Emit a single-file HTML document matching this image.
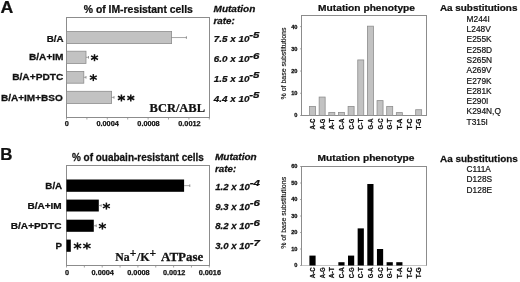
<!DOCTYPE html>
<html><head><meta charset="utf-8"><title>figure</title>
<style>
html,body{margin:0;padding:0;background:#fff;}
body{width:520px;height:282px;overflow:hidden;font-family:"Liberation Sans",sans-serif;}
svg{display:block;will-change:transform;transform:translateZ(0);filter:blur(0.35px);}
text{fill:#111;}
text[font-weight=bold]{stroke:#111;stroke-width:0.25px;}
</style></head><body>
<svg width="520" height="282" viewBox="0 0 520 282">
<text transform="translate(0.6,13.4) scale(1.055,1)" font-size="16.8" font-weight="bold" font-style="normal" font-family="Liberation Sans, sans-serif" >A</text>
<text transform="translate(0.2,160.4) scale(1.0428,1)" font-size="16.2" font-weight="bold" font-style="normal" font-family="Liberation Sans, sans-serif" >B</text>
<rect x="66.5" y="17.5" width="143.0" height="100.0" fill="none" stroke="#8c8c8c" stroke-width="1"/>
<text transform="translate(83.75,13.2) scale(1.0411,1)" font-size="10" font-weight="bold" font-style="normal" font-family="Liberation Sans, sans-serif" >% of IM-resistant cells</text>
<rect x="66.5" y="31.5" width="105.1" height="12.1" fill="#c2c2c2" stroke="#8e8e8e" stroke-width="0.8"/>
<line x1="171.6" y1="37.55" x2="186.4" y2="37.55" stroke="#6a6a6a" stroke-width="0.6"/>
<line x1="186.4" y1="36.25" x2="186.4" y2="38.85" stroke="#6a6a6a" stroke-width="0.7"/>
<text transform="translate(46.8,41.5) scale(1.1085,1)" font-size="8.8" font-weight="bold" font-style="normal" font-family="Liberation Sans, sans-serif" >B/A</text>
<rect x="66.5" y="51.2" width="19.5" height="12.2" fill="#c2c2c2" stroke="#8e8e8e" stroke-width="0.8"/>
<line x1="86" y1="57.3" x2="88.5" y2="57.3" stroke="#6a6a6a" stroke-width="0.6"/>
<line x1="88.5" y1="56.0" x2="88.5" y2="58.6" stroke="#6a6a6a" stroke-width="0.7"/>
<text transform="translate(29.0,59.8) scale(1.1507,1)" font-size="8.8" font-weight="bold" font-style="normal" font-family="Liberation Sans, sans-serif" >B/A+IM</text>
<rect x="66.5" y="71.4" width="17.3" height="11.8" fill="#c2c2c2" stroke="#8e8e8e" stroke-width="0.8"/>
<line x1="83.8" y1="77.3" x2="86" y2="77.3" stroke="#6a6a6a" stroke-width="0.6"/>
<line x1="86" y1="76.0" x2="86" y2="78.6" stroke="#6a6a6a" stroke-width="0.7"/>
<text transform="translate(12.2,80.1) scale(1.1571,1)" font-size="8.8" font-weight="bold" font-style="normal" font-family="Liberation Sans, sans-serif" >B/A+PDTC</text>
<rect x="66.5" y="91.3" width="45.1" height="12.2" fill="#c2c2c2" stroke="#8e8e8e" stroke-width="0.8"/>
<line x1="111.6" y1="97.4" x2="114" y2="97.4" stroke="#6a6a6a" stroke-width="0.6"/>
<line x1="114" y1="96.1" x2="114" y2="98.7" stroke="#6a6a6a" stroke-width="0.7"/>
<text transform="translate(0.9,101.4) scale(1.1404,1)" font-size="8.8" font-weight="bold" font-style="normal" font-family="Liberation Sans, sans-serif" >B/A+IM+BSO</text>
<line x1="94.5" y1="54.2" x2="94.5" y2="61.2" stroke="#111" stroke-width="1.5"/>
<line x1="91.03" y1="55.93" x2="97.97" y2="59.47" stroke="#111" stroke-width="1.5"/>
<line x1="97.97" y1="55.93" x2="91.03" y2="59.47" stroke="#111" stroke-width="1.5"/>
<line x1="93.3" y1="74.1" x2="93.3" y2="81.1" stroke="#111" stroke-width="1.5"/>
<line x1="89.83" y1="75.83" x2="96.77" y2="79.37" stroke="#111" stroke-width="1.5"/>
<line x1="96.77" y1="75.83" x2="89.83" y2="79.37" stroke="#111" stroke-width="1.5"/>
<line x1="121.4" y1="94.5" x2="121.4" y2="101.5" stroke="#111" stroke-width="1.5"/>
<line x1="117.93" y1="96.23" x2="124.87" y2="99.77" stroke="#111" stroke-width="1.5"/>
<line x1="124.87" y1="96.23" x2="117.93" y2="99.77" stroke="#111" stroke-width="1.5"/>
<line x1="130.8" y1="94.5" x2="130.8" y2="101.5" stroke="#111" stroke-width="1.5"/>
<line x1="127.33" y1="96.23" x2="134.27" y2="99.77" stroke="#111" stroke-width="1.5"/>
<line x1="134.27" y1="96.23" x2="127.33" y2="99.77" stroke="#111" stroke-width="1.5"/>
<line x1="66.5" y1="117.5" x2="66.5" y2="119.5" stroke="#8c8c8c" stroke-width="0.8"/>
<line x1="86.9" y1="117.5" x2="86.9" y2="119.5" stroke="#8c8c8c" stroke-width="0.8"/>
<line x1="107.3" y1="117.5" x2="107.3" y2="119.5" stroke="#8c8c8c" stroke-width="0.8"/>
<line x1="127.7" y1="117.5" x2="127.7" y2="119.5" stroke="#8c8c8c" stroke-width="0.8"/>
<line x1="148.1" y1="117.5" x2="148.1" y2="119.5" stroke="#8c8c8c" stroke-width="0.8"/>
<line x1="168.5" y1="117.5" x2="168.5" y2="119.5" stroke="#8c8c8c" stroke-width="0.8"/>
<line x1="188.9" y1="117.5" x2="188.9" y2="119.5" stroke="#8c8c8c" stroke-width="0.8"/>
<line x1="209.3" y1="117.5" x2="209.3" y2="119.5" stroke="#8c8c8c" stroke-width="0.8"/>
<text transform="translate(66.7,126) scale(1.0,1)" font-size="7.3" font-weight="bold" font-style="normal" text-anchor="middle" font-family="Liberation Sans, sans-serif" >0</text>
<text transform="translate(107.6,126) scale(1.0,1)" font-size="7.3" font-weight="bold" font-style="normal" text-anchor="middle" font-family="Liberation Sans, sans-serif" >0.0004</text>
<text transform="translate(148.5,126) scale(1.0,1)" font-size="7.3" font-weight="bold" font-style="normal" text-anchor="middle" font-family="Liberation Sans, sans-serif" >0.0008</text>
<text transform="translate(189.4,126) scale(1.0,1)" font-size="7.3" font-weight="bold" font-style="normal" text-anchor="middle" font-family="Liberation Sans, sans-serif" >0.0012</text>
<text transform="translate(149.6,112.4) scale(1.0132,1)" font-size="12.3" font-weight="bold" font-style="normal" font-family="Liberation Serif, serif" >BCR/ABL</text>
<text transform="translate(213.55,11.7) scale(1.115,1)" font-size="9.0" font-weight="bold" font-style="italic" font-family="Liberation Sans, sans-serif" >Mutation</text>
<text transform="translate(213.55,23.9) scale(1.0868,1)" font-size="9.0" font-weight="bold" font-style="italic" font-family="Liberation Sans, sans-serif" >rate:</text>
<text transform="translate(213.75,41.8) scale(1.0493,1)" font-size="9.4" font-weight="bold" font-style="italic" font-family="Liberation Sans, sans-serif" >7.5 x 10</text>
<text transform="translate(249.2,38.4) scale(1.1826,1)" font-size="9.7" font-weight="bold" font-style="italic" font-family="Liberation Sans, sans-serif" >-5</text>
<text transform="translate(213.75,62.2) scale(1.0493,1)" font-size="9.4" font-weight="bold" font-style="italic" font-family="Liberation Sans, sans-serif" >6.0 x 10</text>
<text transform="translate(249.2,58.8) scale(1.1826,1)" font-size="9.7" font-weight="bold" font-style="italic" font-family="Liberation Sans, sans-serif" >-6</text>
<text transform="translate(213.75,81.6) scale(1.0493,1)" font-size="9.4" font-weight="bold" font-style="italic" font-family="Liberation Sans, sans-serif" >1.5 x 10</text>
<text transform="translate(249.2,78.2) scale(1.1826,1)" font-size="9.7" font-weight="bold" font-style="italic" font-family="Liberation Sans, sans-serif" >-5</text>
<text transform="translate(213.75,101.5) scale(1.0493,1)" font-size="9.4" font-weight="bold" font-style="italic" font-family="Liberation Sans, sans-serif" >4.4 x 10</text>
<text transform="translate(249.2,98.1) scale(1.1826,1)" font-size="9.7" font-weight="bold" font-style="italic" font-family="Liberation Sans, sans-serif" >-5</text>
<rect x="66.5" y="165.5" width="143.0" height="100.0" fill="none" stroke="#8c8c8c" stroke-width="1"/>
<text transform="translate(71.9,161) scale(0.9988,1)" font-size="10" font-weight="bold" font-style="normal" font-family="Liberation Sans, sans-serif" >% of ouabain-resistant cells</text>
<rect x="66.5" y="179.5" width="117.6" height="12.3" fill="#000"/>
<line x1="184.1" y1="185.65" x2="189.8" y2="185.65" stroke="#6a6a6a" stroke-width="0.6"/>
<line x1="189.8" y1="184.35" x2="189.8" y2="186.95" stroke="#6a6a6a" stroke-width="0.7"/>
<text transform="translate(45.3,188.5) scale(1.1151,1)" font-size="8.8" font-weight="bold" font-style="normal" font-family="Liberation Sans, sans-serif" >B/A</text>
<rect x="66.5" y="199.6" width="32.3" height="11.9" fill="#000"/>
<line x1="98.8" y1="205.55" x2="101.2" y2="205.55" stroke="#6a6a6a" stroke-width="0.6"/>
<line x1="101.2" y1="204.25" x2="101.2" y2="206.85" stroke="#6a6a6a" stroke-width="0.7"/>
<text transform="translate(27.5,208.5) scale(1.1374,1)" font-size="8.8" font-weight="bold" font-style="normal" font-family="Liberation Sans, sans-serif" >B/A+IM</text>
<rect x="66.5" y="219.7" width="27.3" height="12.1" fill="#000"/>
<line x1="93.8" y1="225.75" x2="96.2" y2="225.75" stroke="#6a6a6a" stroke-width="0.6"/>
<line x1="96.2" y1="224.45" x2="96.2" y2="227.05" stroke="#6a6a6a" stroke-width="0.7"/>
<text transform="translate(10.8,228.6) scale(1.1458,1)" font-size="8.8" font-weight="bold" font-style="normal" font-family="Liberation Sans, sans-serif" >B/A+PDTC</text>
<rect x="66.5" y="239.6" width="4.3" height="12.2" fill="#000"/>
<text transform="translate(55.4,249.0) scale(1.1074,1)" font-size="8.8" font-weight="bold" font-style="normal" font-family="Liberation Sans, sans-serif" >P</text>
<line x1="106.4" y1="202.6" x2="106.4" y2="209.6" stroke="#111" stroke-width="1.5"/>
<line x1="102.93" y1="204.33" x2="109.87" y2="207.87" stroke="#111" stroke-width="1.5"/>
<line x1="109.87" y1="204.33" x2="102.93" y2="207.87" stroke="#111" stroke-width="1.5"/>
<line x1="102.4" y1="222.6" x2="102.4" y2="229.6" stroke="#111" stroke-width="1.5"/>
<line x1="98.93" y1="224.33" x2="105.87" y2="227.87" stroke="#111" stroke-width="1.5"/>
<line x1="105.87" y1="224.33" x2="98.93" y2="227.87" stroke="#111" stroke-width="1.5"/>
<line x1="77.5" y1="242.4" x2="77.5" y2="249.6" stroke="#111" stroke-width="1.5"/>
<line x1="73.85" y1="244.14" x2="81.15" y2="247.86" stroke="#111" stroke-width="1.5"/>
<line x1="81.15" y1="244.14" x2="73.85" y2="247.86" stroke="#111" stroke-width="1.5"/>
<line x1="86.9" y1="242.4" x2="86.9" y2="249.6" stroke="#111" stroke-width="1.5"/>
<line x1="83.25" y1="244.14" x2="90.55" y2="247.86" stroke="#111" stroke-width="1.5"/>
<line x1="90.55" y1="244.14" x2="83.25" y2="247.86" stroke="#111" stroke-width="1.5"/>
<line x1="66.5" y1="265.5" x2="66.5" y2="267.5" stroke="#8c8c8c" stroke-width="0.8"/>
<line x1="84.35" y1="265.5" x2="84.35" y2="267.5" stroke="#8c8c8c" stroke-width="0.8"/>
<line x1="102.2" y1="265.5" x2="102.2" y2="267.5" stroke="#8c8c8c" stroke-width="0.8"/>
<line x1="120.05" y1="265.5" x2="120.05" y2="267.5" stroke="#8c8c8c" stroke-width="0.8"/>
<line x1="137.9" y1="265.5" x2="137.9" y2="267.5" stroke="#8c8c8c" stroke-width="0.8"/>
<line x1="155.75" y1="265.5" x2="155.75" y2="267.5" stroke="#8c8c8c" stroke-width="0.8"/>
<line x1="173.6" y1="265.5" x2="173.6" y2="267.5" stroke="#8c8c8c" stroke-width="0.8"/>
<line x1="191.45" y1="265.5" x2="191.45" y2="267.5" stroke="#8c8c8c" stroke-width="0.8"/>
<line x1="209.3" y1="265.5" x2="209.3" y2="267.5" stroke="#8c8c8c" stroke-width="0.8"/>
<text transform="translate(67.0,275) scale(1.0,1)" font-size="7.3" font-weight="bold" font-style="normal" text-anchor="middle" font-family="Liberation Sans, sans-serif" >0</text>
<text transform="translate(102.7,275) scale(1.0,1)" font-size="7.3" font-weight="bold" font-style="normal" text-anchor="middle" font-family="Liberation Sans, sans-serif" >0.0004</text>
<text transform="translate(138.4,275) scale(1.0,1)" font-size="7.3" font-weight="bold" font-style="normal" text-anchor="middle" font-family="Liberation Sans, sans-serif" >0.0008</text>
<text transform="translate(174.1,275) scale(1.0,1)" font-size="7.3" font-weight="bold" font-style="normal" text-anchor="middle" font-family="Liberation Sans, sans-serif" >0.0012</text>
<text transform="translate(209.8,275) scale(1.0,1)" font-size="7.3" font-weight="bold" font-style="normal" text-anchor="middle" font-family="Liberation Sans, sans-serif" >0.0016</text>
<text transform="translate(115.2,260.8) scale(0.9205,1)" font-size="12.8" font-weight="bold" font-style="normal" font-family="Liberation Serif, serif" >Na</text>
<text transform="translate(129.8,256.5) scale(1.0072,1)" font-size="11.5" font-weight="bold" font-style="normal" font-family="Liberation Serif, serif" >+</text>
<text transform="translate(136.8,260.8) scale(0.9473,1)" font-size="12.8" font-weight="bold" font-style="normal" font-family="Liberation Serif, serif" >/K</text>
<text transform="translate(149.6,256.5) scale(1.0072,1)" font-size="11.5" font-weight="bold" font-style="normal" font-family="Liberation Serif, serif" >+</text>
<text transform="translate(161,260.8) scale(1.0141,1)" font-size="12.8" font-weight="bold" font-style="normal" font-family="Liberation Serif, serif" >ATPase</text>
<text transform="translate(215.0,160.3) scale(1.115,1)" font-size="9.0" font-weight="bold" font-style="italic" font-family="Liberation Sans, sans-serif" >Mutation</text>
<text transform="translate(215.0,172.2) scale(1.0868,1)" font-size="9.0" font-weight="bold" font-style="italic" font-family="Liberation Sans, sans-serif" >rate:</text>
<text transform="translate(215.2,189.6) scale(1.0243,1)" font-size="9.4" font-weight="bold" font-style="italic" font-family="Liberation Sans, sans-serif" >1.2 x 10</text>
<text transform="translate(249.8,186.2) scale(1.1826,1)" font-size="9.7" font-weight="bold" font-style="italic" font-family="Liberation Sans, sans-serif" >-4</text>
<text transform="translate(215.2,209.5) scale(1.0243,1)" font-size="9.4" font-weight="bold" font-style="italic" font-family="Liberation Sans, sans-serif" >9.3 x 10</text>
<text transform="translate(249.8,206.1) scale(1.1826,1)" font-size="9.7" font-weight="bold" font-style="italic" font-family="Liberation Sans, sans-serif" >-6</text>
<text transform="translate(215.2,229.1) scale(1.0243,1)" font-size="9.4" font-weight="bold" font-style="italic" font-family="Liberation Sans, sans-serif" >8.2 x 10</text>
<text transform="translate(249.8,225.7) scale(1.1826,1)" font-size="9.7" font-weight="bold" font-style="italic" font-family="Liberation Sans, sans-serif" >-6</text>
<text transform="translate(215.2,249.1) scale(1.0243,1)" font-size="9.4" font-weight="bold" font-style="italic" font-family="Liberation Sans, sans-serif" >3.0 x 10</text>
<text transform="translate(249.8,245.7) scale(1.1826,1)" font-size="9.7" font-weight="bold" font-style="italic" font-family="Liberation Sans, sans-serif" >-7</text>
<text transform="translate(318.1,10.6) scale(1.0409,1)" font-size="9.8" font-weight="bold" font-style="normal" font-family="Liberation Sans, sans-serif" stroke="#111" stroke-width="0.3">Mutation phenotype</text>
<line x1="301.5" y1="15.0" x2="301.5" y2="116.0" stroke="#8c8c8c" stroke-width="1"/>
<line x1="426.5" y1="15.0" x2="426.5" y2="116.0" stroke="#8c8c8c" stroke-width="1"/>
<line x1="301.5" y1="15.5" x2="426.5" y2="15.5" stroke="#8c8c8c" stroke-width="1"/>
<line x1="301.5" y1="115.5" x2="426.5" y2="115.5" stroke="#8c8c8c" stroke-width="1"/>
<line x1="300.0" y1="115.5" x2="301.5" y2="115.5" stroke="#8c8c8c" stroke-width="0.7"/>
<text transform="translate(297.5,117.4) scale(1.05,1)" font-size="5.4" font-weight="bold" font-style="normal" text-anchor="end" font-family="Liberation Sans, sans-serif" stroke="#111" stroke-width="0.15">0</text>
<line x1="300.0" y1="93.28" x2="301.5" y2="93.28" stroke="#8c8c8c" stroke-width="0.7"/>
<text transform="translate(297.5,95.18) scale(1.05,1)" font-size="5.4" font-weight="bold" font-style="normal" text-anchor="end" font-family="Liberation Sans, sans-serif" stroke="#111" stroke-width="0.15">10</text>
<line x1="300.0" y1="71.06" x2="301.5" y2="71.06" stroke="#8c8c8c" stroke-width="0.7"/>
<text transform="translate(297.5,72.96) scale(1.05,1)" font-size="5.4" font-weight="bold" font-style="normal" text-anchor="end" font-family="Liberation Sans, sans-serif" stroke="#111" stroke-width="0.15">20</text>
<line x1="300.0" y1="48.83" x2="301.5" y2="48.83" stroke="#8c8c8c" stroke-width="0.7"/>
<text transform="translate(297.5,50.73) scale(1.05,1)" font-size="5.4" font-weight="bold" font-style="normal" text-anchor="end" font-family="Liberation Sans, sans-serif" stroke="#111" stroke-width="0.15">30</text>
<line x1="300.0" y1="26.61" x2="301.5" y2="26.61" stroke="#8c8c8c" stroke-width="0.7"/>
<text transform="translate(297.5,28.51) scale(1.05,1)" font-size="5.4" font-weight="bold" font-style="normal" text-anchor="end" font-family="Liberation Sans, sans-serif" stroke="#111" stroke-width="0.15">40</text>
<rect x="309.5" y="106.39" width="6" height="9.11" fill="#c2c2c2" stroke="#8e8e8e" stroke-width="0.8"/>
<text transform="translate(315.1,129.4) rotate(-90) scale(0.9207,1)" font-size="6.6" font-weight="bold" font-style="normal" font-family="Liberation Sans, sans-serif" >A-C</text>
<rect x="319.15" y="97.06" width="6" height="18.44" fill="#c2c2c2" stroke="#8e8e8e" stroke-width="0.8"/>
<text transform="translate(324.75,129.4) rotate(-90) scale(0.8927,1)" font-size="6.6" font-weight="bold" font-style="normal" font-family="Liberation Sans, sans-serif" >A-G</text>
<rect x="328.8" y="112.39" width="6" height="3.11" fill="#c2c2c2" stroke="#8e8e8e" stroke-width="0.8"/>
<text transform="translate(334.4,129.4) rotate(-90) scale(0.9822,1)" font-size="6.6" font-weight="bold" font-style="normal" font-family="Liberation Sans, sans-serif" >A-T</text>
<rect x="338.45" y="112.39" width="6" height="3.11" fill="#c2c2c2" stroke="#8e8e8e" stroke-width="0.8"/>
<text transform="translate(344.05,129.4) rotate(-90) scale(0.9207,1)" font-size="6.6" font-weight="bold" font-style="normal" font-family="Liberation Sans, sans-serif" >C-A</text>
<rect x="348.1" y="106.39" width="6" height="9.11" fill="#c2c2c2" stroke="#8e8e8e" stroke-width="0.8"/>
<text transform="translate(353.7,129.4) rotate(-90) scale(0.8927,1)" font-size="6.6" font-weight="bold" font-style="normal" font-family="Liberation Sans, sans-serif" >C-G</text>
<rect x="357.75" y="59.94" width="6" height="55.56" fill="#c2c2c2" stroke="#8e8e8e" stroke-width="0.8"/>
<text transform="translate(363.35,129.4) rotate(-90) scale(0.9822,1)" font-size="6.6" font-weight="bold" font-style="normal" font-family="Liberation Sans, sans-serif" >C-T</text>
<rect x="367.4" y="26.17" width="6" height="89.33" fill="#c2c2c2" stroke="#8e8e8e" stroke-width="0.8"/>
<text transform="translate(373.0,129.4) rotate(-90) scale(0.8927,1)" font-size="6.6" font-weight="bold" font-style="normal" font-family="Liberation Sans, sans-serif" >G-A</text>
<rect x="377.05" y="100.61" width="6" height="14.89" fill="#c2c2c2" stroke="#8e8e8e" stroke-width="0.8"/>
<text transform="translate(382.65,129.4) rotate(-90) scale(0.8927,1)" font-size="6.6" font-weight="bold" font-style="normal" font-family="Liberation Sans, sans-serif" >G-C</text>
<rect x="386.7" y="106.39" width="6" height="9.11" fill="#c2c2c2" stroke="#8e8e8e" stroke-width="0.8"/>
<text transform="translate(392.3,129.4) rotate(-90) scale(0.9504,1)" font-size="6.6" font-weight="bold" font-style="normal" font-family="Liberation Sans, sans-serif" >G-T</text>
<rect x="396.35" y="112.61" width="6" height="2.89" fill="#c2c2c2" stroke="#8e8e8e" stroke-width="0.8"/>
<text transform="translate(401.95,129.4) rotate(-90) scale(1.0158,1)" font-size="6.6" font-weight="bold" font-style="normal" font-family="Liberation Sans, sans-serif" >T-A</text>
<text transform="translate(411.6,129.4) rotate(-90) scale(1.0158,1)" font-size="6.6" font-weight="bold" font-style="normal" font-family="Liberation Sans, sans-serif" >T-C</text>
<rect x="415.65" y="109.72" width="6" height="5.78" fill="#c2c2c2" stroke="#8e8e8e" stroke-width="0.8"/>
<text transform="translate(421.25,129.4) rotate(-90) scale(0.9819,1)" font-size="6.6" font-weight="bold" font-style="normal" font-family="Liberation Sans, sans-serif" >T-G</text>
<text transform="translate(286.3,99.5) rotate(-90) scale(1.0608,1)" font-size="6.6" font-weight="normal" font-style="normal" font-family="Liberation Sans, sans-serif" stroke="#111" stroke-width="0.15">% of base substitutions</text>
<text transform="translate(317.6,161.4) scale(1.0409,1)" font-size="9.8" font-weight="bold" font-style="normal" font-family="Liberation Sans, sans-serif" stroke="#111" stroke-width="0.3">Mutation phenotype</text>
<line x1="301.5" y1="166.0" x2="301.5" y2="266.0" stroke="#8c8c8c" stroke-width="1"/>
<line x1="426.5" y1="166.0" x2="426.5" y2="266.0" stroke="#8c8c8c" stroke-width="1"/>
<line x1="301.5" y1="166.5" x2="426.5" y2="166.5" stroke="#8c8c8c" stroke-width="1"/>
<line x1="301.5" y1="265.5" x2="426.5" y2="265.5" stroke="#c4c4c4" stroke-width="1"/>
<line x1="300.0" y1="265.5" x2="301.5" y2="265.5" stroke="#8c8c8c" stroke-width="0.7"/>
<text transform="translate(297.5,267.4) scale(1.05,1)" font-size="5.4" font-weight="bold" font-style="normal" text-anchor="end" font-family="Liberation Sans, sans-serif" stroke="#111" stroke-width="0.15">0</text>
<line x1="300.0" y1="249.0" x2="301.5" y2="249.0" stroke="#8c8c8c" stroke-width="0.7"/>
<text transform="translate(297.5,250.9) scale(1.05,1)" font-size="5.4" font-weight="bold" font-style="normal" text-anchor="end" font-family="Liberation Sans, sans-serif" stroke="#111" stroke-width="0.15">10</text>
<line x1="300.0" y1="232.5" x2="301.5" y2="232.5" stroke="#8c8c8c" stroke-width="0.7"/>
<text transform="translate(297.5,234.4) scale(1.05,1)" font-size="5.4" font-weight="bold" font-style="normal" text-anchor="end" font-family="Liberation Sans, sans-serif" stroke="#111" stroke-width="0.15">20</text>
<line x1="300.0" y1="216.0" x2="301.5" y2="216.0" stroke="#8c8c8c" stroke-width="0.7"/>
<text transform="translate(297.5,217.9) scale(1.05,1)" font-size="5.4" font-weight="bold" font-style="normal" text-anchor="end" font-family="Liberation Sans, sans-serif" stroke="#111" stroke-width="0.15">30</text>
<line x1="300.0" y1="199.5" x2="301.5" y2="199.5" stroke="#8c8c8c" stroke-width="0.7"/>
<text transform="translate(297.5,201.4) scale(1.05,1)" font-size="5.4" font-weight="bold" font-style="normal" text-anchor="end" font-family="Liberation Sans, sans-serif" stroke="#111" stroke-width="0.15">40</text>
<line x1="300.0" y1="183.0" x2="301.5" y2="183.0" stroke="#8c8c8c" stroke-width="0.7"/>
<text transform="translate(297.5,184.9) scale(1.05,1)" font-size="5.4" font-weight="bold" font-style="normal" text-anchor="end" font-family="Liberation Sans, sans-serif" stroke="#111" stroke-width="0.15">50</text>
<line x1="300.0" y1="166.5" x2="301.5" y2="166.5" stroke="#8c8c8c" stroke-width="0.7"/>
<text transform="translate(297.5,168.4) scale(1.05,1)" font-size="5.4" font-weight="bold" font-style="normal" text-anchor="end" font-family="Liberation Sans, sans-serif" stroke="#111" stroke-width="0.15">60</text>
<rect x="309.4" y="255.6" width="6.2" height="9.9" fill="#000"/>
<text transform="translate(315.1,278.2) rotate(-90) scale(0.9207,1)" font-size="6.6" font-weight="bold" font-style="normal" font-family="Liberation Sans, sans-serif" >A-C</text>
<text transform="translate(324.75,278.2) rotate(-90) scale(0.8927,1)" font-size="6.6" font-weight="bold" font-style="normal" font-family="Liberation Sans, sans-serif" >A-G</text>
<text transform="translate(334.4,278.2) rotate(-90) scale(0.9822,1)" font-size="6.6" font-weight="bold" font-style="normal" font-family="Liberation Sans, sans-serif" >A-T</text>
<rect x="338.35" y="262.2" width="6.2" height="3.3" fill="#000"/>
<text transform="translate(344.05,278.2) rotate(-90) scale(0.9207,1)" font-size="6.6" font-weight="bold" font-style="normal" font-family="Liberation Sans, sans-serif" >C-A</text>
<rect x="348.0" y="255.6" width="6.2" height="9.9" fill="#000"/>
<text transform="translate(353.7,278.2) rotate(-90) scale(0.8927,1)" font-size="6.6" font-weight="bold" font-style="normal" font-family="Liberation Sans, sans-serif" >C-G</text>
<rect x="357.65" y="228.38" width="6.2" height="37.12" fill="#000"/>
<text transform="translate(363.35,278.2) rotate(-90) scale(0.9822,1)" font-size="6.6" font-weight="bold" font-style="normal" font-family="Liberation Sans, sans-serif" >C-T</text>
<rect x="367.3" y="183.99" width="6.2" height="81.51" fill="#000"/>
<text transform="translate(373.0,278.2) rotate(-90) scale(0.8927,1)" font-size="6.6" font-weight="bold" font-style="normal" font-family="Liberation Sans, sans-serif" >G-A</text>
<rect x="376.95" y="249.0" width="6.2" height="16.5" fill="#000"/>
<text transform="translate(382.65,278.2) rotate(-90) scale(0.8927,1)" font-size="6.6" font-weight="bold" font-style="normal" font-family="Liberation Sans, sans-serif" >G-C</text>
<rect x="386.6" y="262.2" width="6.2" height="3.3" fill="#000"/>
<text transform="translate(392.3,278.2) rotate(-90) scale(0.9504,1)" font-size="6.6" font-weight="bold" font-style="normal" font-family="Liberation Sans, sans-serif" >G-T</text>
<rect x="396.25" y="262.2" width="6.2" height="3.3" fill="#000"/>
<text transform="translate(401.95,278.2) rotate(-90) scale(1.0158,1)" font-size="6.6" font-weight="bold" font-style="normal" font-family="Liberation Sans, sans-serif" >T-A</text>
<text transform="translate(411.6,278.2) rotate(-90) scale(1.0158,1)" font-size="6.6" font-weight="bold" font-style="normal" font-family="Liberation Sans, sans-serif" >T-C</text>
<text transform="translate(421.25,278.2) rotate(-90) scale(0.9819,1)" font-size="6.6" font-weight="bold" font-style="normal" font-family="Liberation Sans, sans-serif" >T-G</text>
<text transform="translate(286.3,248.8) rotate(-90) scale(1.0608,1)" font-size="6.6" font-weight="normal" font-style="normal" font-family="Liberation Sans, sans-serif" stroke="#111" stroke-width="0.15">% of base substitutions</text>
<text transform="translate(439.9,10.5) scale(1.0108,1)" font-size="9.8" font-weight="bold" font-style="normal" font-family="Liberation Sans, sans-serif" stroke="#111" stroke-width="0.3">Aa substitutions</text>
<text transform="translate(466.6,21.7) scale(0.97,1)" font-size="8.6" font-weight="normal" font-style="normal" text-anchor="start" font-family="Liberation Sans, sans-serif" stroke="#111" stroke-width="0.2">M244I</text>
<text transform="translate(466.6,32.0) scale(0.97,1)" font-size="8.6" font-weight="normal" font-style="normal" text-anchor="start" font-family="Liberation Sans, sans-serif" stroke="#111" stroke-width="0.2">L248V</text>
<text transform="translate(466.6,42.3) scale(0.97,1)" font-size="8.6" font-weight="normal" font-style="normal" text-anchor="start" font-family="Liberation Sans, sans-serif" stroke="#111" stroke-width="0.2">E255K</text>
<text transform="translate(466.6,52.6) scale(0.97,1)" font-size="8.6" font-weight="normal" font-style="normal" text-anchor="start" font-family="Liberation Sans, sans-serif" stroke="#111" stroke-width="0.2">E258D</text>
<text transform="translate(466.6,62.9) scale(0.97,1)" font-size="8.6" font-weight="normal" font-style="normal" text-anchor="start" font-family="Liberation Sans, sans-serif" stroke="#111" stroke-width="0.2">S265N</text>
<text transform="translate(466.6,73.2) scale(0.97,1)" font-size="8.6" font-weight="normal" font-style="normal" text-anchor="start" font-family="Liberation Sans, sans-serif" stroke="#111" stroke-width="0.2">A269V</text>
<text transform="translate(466.6,83.5) scale(0.97,1)" font-size="8.6" font-weight="normal" font-style="normal" text-anchor="start" font-family="Liberation Sans, sans-serif" stroke="#111" stroke-width="0.2">E279K</text>
<text transform="translate(466.6,93.8) scale(0.97,1)" font-size="8.6" font-weight="normal" font-style="normal" text-anchor="start" font-family="Liberation Sans, sans-serif" stroke="#111" stroke-width="0.2">E281K</text>
<text transform="translate(466.6,104.1) scale(0.97,1)" font-size="8.6" font-weight="normal" font-style="normal" text-anchor="start" font-family="Liberation Sans, sans-serif" stroke="#111" stroke-width="0.2">E290I</text>
<text transform="translate(466.6,114.4) scale(0.97,1)" font-size="8.6" font-weight="normal" font-style="normal" text-anchor="start" font-family="Liberation Sans, sans-serif" stroke="#111" stroke-width="0.2">K294N,Q</text>
<text transform="translate(466.6,124.7) scale(0.97,1)" font-size="8.6" font-weight="normal" font-style="normal" text-anchor="start" font-family="Liberation Sans, sans-serif" stroke="#111" stroke-width="0.2">T315I</text>
<text transform="translate(440,161.6) scale(1.016,1)" font-size="9.8" font-weight="bold" font-style="normal" font-family="Liberation Sans, sans-serif" stroke="#111" stroke-width="0.3">Aa substitutions</text>
<text transform="translate(466.6,172.0) scale(0.97,1)" font-size="8.6" font-weight="normal" font-style="normal" text-anchor="start" font-family="Liberation Sans, sans-serif" stroke="#111" stroke-width="0.2">C111A</text>
<text transform="translate(466.6,182.3) scale(0.97,1)" font-size="8.6" font-weight="normal" font-style="normal" text-anchor="start" font-family="Liberation Sans, sans-serif" stroke="#111" stroke-width="0.2">D128S</text>
<text transform="translate(466.6,192.6) scale(0.97,1)" font-size="8.6" font-weight="normal" font-style="normal" text-anchor="start" font-family="Liberation Sans, sans-serif" stroke="#111" stroke-width="0.2">D128E</text>
</svg>
</body></html>
